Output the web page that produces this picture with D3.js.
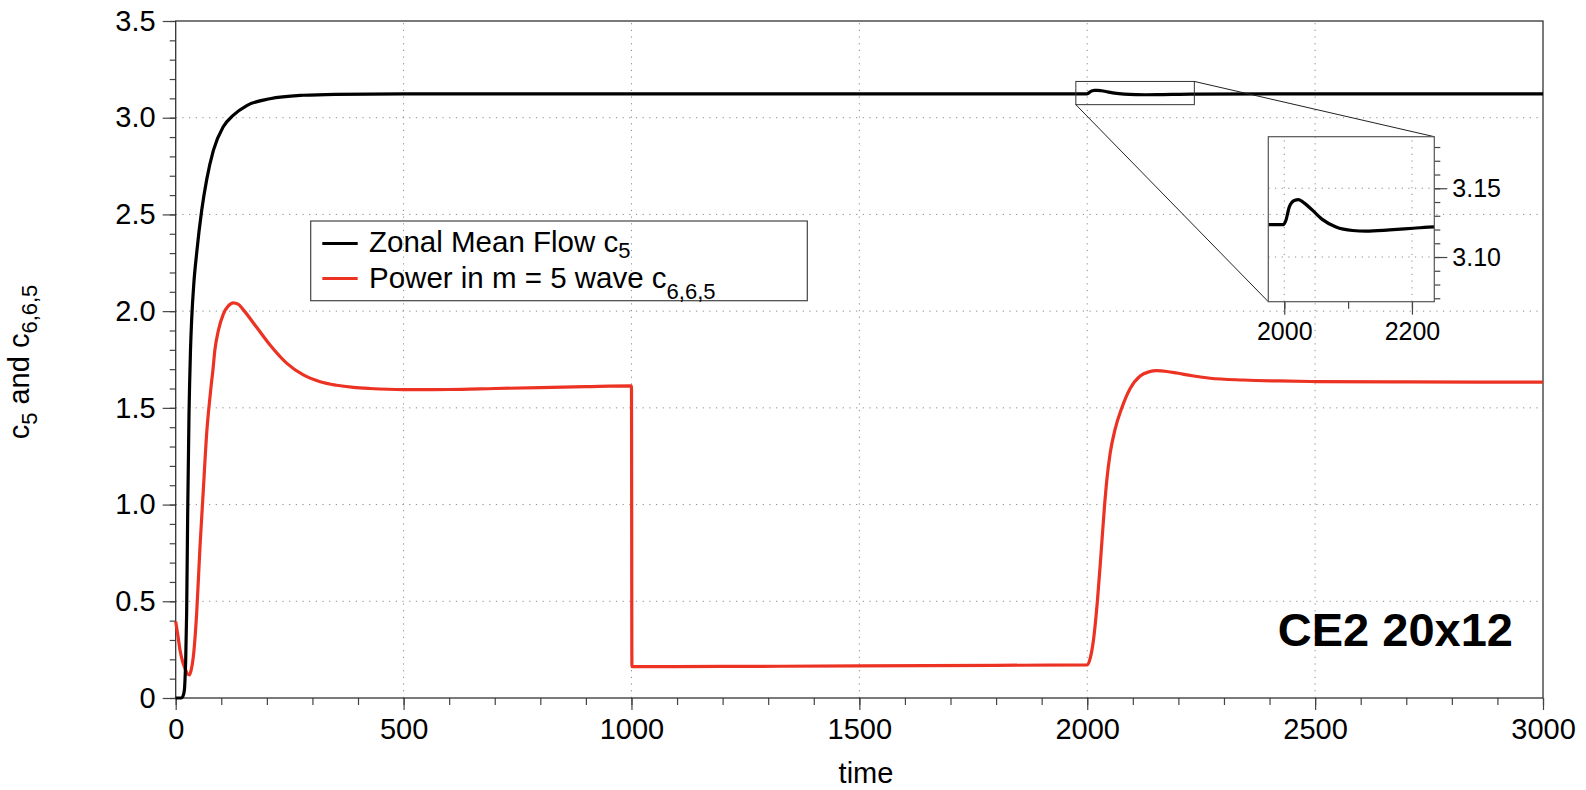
<!DOCTYPE html>
<html><head><meta charset="utf-8">
<script src="https://cdn.jsdelivr.net/npm/d3@7"></script>
<style>
body{margin:0;background:#fff}
svg{display:block}
text{font-family:"Liberation Sans",Arial,Helvetica,sans-serif;fill:#000}
</style>
</head><body>
<svg id="c" width="1586" height="790"></svg>
<script>
// ---- data ----
const blackTime  = [0, 12, 16, 19, 20.4, 22, 24, 26.3, 29.2, 30.5, 32.5, 35, 40, 46, 57, 68, 82.5, 104, 126, 156, 207, 280, 350, 500, 1000, 1500, 1999,
  2002.6, 2007.8, 2015.7, 2022.5, 2031, 2044.5, 2060, 2081, 2107, 2128, 2165, 2202, 2235, 2400, 2700, 3000];
const blackValue = [0, 0, 0.01, 0.04, 0.093, 0.2, 0.438, 0.955, 1.47, 1.62, 1.80, 1.955, 2.15, 2.30, 2.52, 2.68, 2.83, 2.952, 3.012, 3.063, 3.098, 3.116, 3.121, 3.123, 3.1236, 3.1236, 3.1236,
  3.1267, 3.1363, 3.1411, 3.1418, 3.1394, 3.1339, 3.1272, 3.1219, 3.1193, 3.1188, 3.1197, 3.1209, 3.1219, 3.1228, 3.1232, 3.1234];

const redTime  = [0, 5, 9.4, 15, 20.4, 25, 29.9, 34, 38.7, 46, 53.3, 60.6, 68, 75.3, 78, 81, 86, 93.6, 104.5, 115.5, 126, 137, 148, 178, 207, 244, 280, 317, 353, 390, 426, 500, 600, 700, 800, 900, 1000,
  1001, 1200, 1500, 1800, 2000, 2007, 2013.7, 2022.5, 2029.8, 2037.8, 2043, 2050.3, 2061.2, 2075.9, 2094.2, 2116.1, 2135, 2152.7, 2175, 2196.6, 2230, 2269.7, 2342.9, 2420, 2503.8, 2700, 3000];
const redValue = [0.395, 0.32, 0.248, 0.19, 0.153, 0.128, 0.119, 0.145, 0.214, 0.438, 0.782, 1.075, 1.369, 1.558, 1.62, 1.68, 1.80, 1.90, 1.985, 2.027, 2.043, 2.036, 2.008, 1.915, 1.825, 1.73, 1.67, 1.635, 1.617, 1.606, 1.60, 1.594, 1.595, 1.600, 1.605, 1.610, 1.614,
  0.162, 0.163, 0.166, 0.169, 0.171, 0.21, 0.300, 0.507, 0.731, 0.989, 1.127, 1.265, 1.39, 1.50, 1.60, 1.665, 1.686, 1.692, 1.688, 1.680, 1.666, 1.653, 1.644, 1.639, 1.636, 1.634, 1.633];

const xMajorTicks = [0, 500, 1000, 1500, 2000, 2500, 3000];
const xTickLabels = ["0", "500", "1000", "1500", "2000", "2500", "3000"];
const yMajorTicks = [0, 0.5, 1.0, 1.5, 2.0, 2.5, 3.0, 3.5];
const yTickLabels = ["0", "0.5", "1.0", "1.5", "2.0", "2.5", "3.0", "3.5"];

const insetTimeDomain  = [1975, 2235];
const insetValueDomain = [3.0675, 3.1875];
const insetXTicks  = [2000, 2200];
const insetXLabels = ["2000", "2200"];
const insetXMinor  = [2000, 2100, 2200];
const insetYTicks  = [3.10, 3.15];
const insetYLabels = ["3.10", "3.15"];

const xTitle = "time";
const annotation = "CE2 20x12";
const seriesColors = ["#000000", "#ec3323"];

// ---- drawing ----
const svg = d3.select("#c");
const L = 175.7, R = 1543, T = 21, B = 698;
const x = d3.scaleLinear([0, 3000], [L, R]);
const y = d3.scaleLinear([0, 3.5], [B, T]);
const FONT = '"Liberation Sans",Arial,Helvetica,sans-serif';
const gridStyle = g => g.attr("stroke", "#8a8a8a").attr("stroke-width", 1).attr("stroke-dasharray", "1.2,5.47");

// grid
const grid = svg.append("g").call(gridStyle);
grid.selectAll(".gx").data(xMajorTicks.filter(d => d > 0 && d < 3000)).join("line")
  .attr("x1", d => x(d)).attr("x2", d => x(d)).attr("y1", B).attr("y2", T);
grid.selectAll(".gy").data(yMajorTicks.filter(d => d > 0 && d < 3.5)).join("line")
  .attr("y1", d => y(d)).attr("y2", d => y(d)).attr("x1", L).attr("x2", R);

// axes
function styleAxis(g, size) {
  g.select(".domain").remove();
  g.selectAll("line").attr("stroke", "#444").attr("stroke-width", 1.2);
  g.attr("font-family", FONT).attr("font-size", size);
  g.selectAll("text").attr("fill", "#000");
}
const minorX = d3.range(0, 31).map(i => i * 100);
svg.append("g").attr("transform", `translate(0,${B})`)
  .call(d3.axisBottom(x).tickValues(minorX).tickSize(7).tickFormat(""))
  .call(g => styleAxis(g, 29));
svg.append("g").attr("transform", `translate(0,${B})`)
  .call(d3.axisBottom(x).tickValues(xMajorTicks).tickSize(12).tickPadding(8).tickFormat((d, i) => xTickLabels[i]))
  .call(g => styleAxis(g, 29));

const minorY = d3.range(0, 36).map(i => i / 10);
svg.append("g").attr("transform", `translate(${L},0)`)
  .call(d3.axisLeft(y).tickValues(minorY).tickSize(6).tickFormat(""))
  .call(g => styleAxis(g, 29));
svg.append("g").attr("transform", `translate(${L},0)`)
  .call(d3.axisLeft(y).tickValues(yMajorTicks).tickSize(13).tickPadding(7).tickFormat((d, i) => yTickLabels[i]))
  .call(g => styleAxis(g, 29));

// frame
svg.append("rect").attr("x", L).attr("y", T).attr("width", R - L).attr("height", B - T)
  .attr("fill", "none").attr("stroke", "#333").attr("stroke-width", 1.3);

// series
const blackData = d3.zip(blackTime, blackValue);
const redData = d3.zip(redTime, redValue);
const line = d3.line().x(d => x(d[0])).y(d => y(d[1])).curve(d3.curveMonotoneX);
svg.append("path").datum(redData).attr("d", line)
  .attr("fill", "none").attr("stroke", seriesColors[1]).attr("stroke-width", 3.2).attr("stroke-linejoin", "round");
svg.append("path").datum(blackData).attr("d", line)
  .attr("fill", "none").attr("stroke", seriesColors[0]).attr("stroke-width", 3.2).attr("stroke-linejoin", "round");

// ---- inset ----
const IL = 1268.3, IR = 1434.3, IT = 136.7, IB = 301.7;
const xi = d3.scaleLinear(insetTimeDomain, [IL, IR]);
const yi = d3.scaleLinear(insetValueDomain, [IB, IT]);

// zoom rectangle in main + connectors
svg.append("rect")
  .attr("x", x(insetTimeDomain[0])).attr("y", y(insetValueDomain[1]))
  .attr("width", x(insetTimeDomain[1]) - x(insetTimeDomain[0]))
  .attr("height", y(insetValueDomain[0]) - y(insetValueDomain[1]))
  .attr("fill", "none").attr("stroke", "#333").attr("stroke-width", 1);
svg.append("line")
  .attr("x1", x(insetTimeDomain[1])).attr("y1", y(insetValueDomain[1]))
  .attr("x2", xi(insetTimeDomain[1])).attr("y2", yi(insetValueDomain[1]))
  .attr("stroke", "#222").attr("stroke-width", 1);
svg.append("line")
  .attr("x1", x(insetTimeDomain[0])).attr("y1", y(insetValueDomain[0]))
  .attr("x2", xi(insetTimeDomain[0])).attr("y2", yi(insetValueDomain[0]))
  .attr("stroke", "#222").attr("stroke-width", 1);

const ig = svg.append("g").call(gridStyle);
ig.selectAll(".igx").data(insetXTicks).join("line")
  .attr("x1", d => xi(d)).attr("x2", d => xi(d)).attr("y1", IB).attr("y2", IT);
ig.selectAll(".igy").data(insetYTicks).join("line")
  .attr("y1", d => yi(d)).attr("y2", d => yi(d)).attr("x1", IL).attr("x2", IR);

svg.append("defs").append("clipPath").attr("id", "insetClip")
  .append("rect").attr("x", IL).attr("y", IT).attr("width", IR - IL).attr("height", IB - IT);
const lineIn = d3.line().x(d => xi(d[0])).y(d => yi(d[1])).curve(d3.curveMonotoneX);
svg.append("path").datum(blackData.filter(d => d[0] >= 1500 && d[0] <= 2400)).attr("d", lineIn)
  .attr("clip-path", "url(#insetClip)")
  .attr("fill", "none").attr("stroke", "#000").attr("stroke-width", 3.2);

const insetYMinor = d3.range(307, 319).map(i => i / 100);
svg.append("g").attr("transform", `translate(${IR},0)`)
  .call(d3.axisRight(yi).tickValues(insetYMinor).tickSize(6).tickFormat(""))
  .call(g => styleAxis(g, 25));
svg.append("g").attr("transform", `translate(${IR},0)`)
  .call(d3.axisRight(yi).tickValues(insetYTicks).tickSize(13).tickPadding(5).tickFormat((d, i) => insetYLabels[i]))
  .call(g => styleAxis(g, 25));
svg.append("g").attr("transform", `translate(0,${IB})`)
  .call(d3.axisBottom(xi).tickValues(insetXMinor).tickSize(7).tickFormat(""))
  .call(g => styleAxis(g, 25));
svg.append("g").attr("transform", `translate(0,${IB})`)
  .call(d3.axisBottom(xi).tickValues(insetXTicks).tickSize(13).tickPadding(8).tickFormat((d, i) => insetXLabels[i]))
  .call(g => styleAxis(g, 25));
svg.append("rect").attr("x", IL).attr("y", IT).attr("width", IR - IL).attr("height", IB - IT)
  .attr("fill", "none").attr("stroke", "#555").attr("stroke-width", 1.2);

// ---- legend ----
const leg = svg.append("g");
leg.append("rect").attr("x", 310.7).attr("y", 221).attr("width", 496.6).attr("height", 79.7)
  .attr("fill", "none").attr("stroke", "#444").attr("stroke-width", 1.2);
const legendItems = [
  {main: "Zonal Mean Flow c", sub: "5", color: seriesColors[0], ly: 243.5, ty: 251.7, dy: 6},
  {main: "Power in m = 5 wave c", sub: "6,6,5", color: seriesColors[1], ly: 278.5, ty: 288.3, dy: 11}
];
legendItems.forEach(it => {
  leg.append("line").attr("x1", 322.3).attr("x2", 357.7).attr("y1", it.ly).attr("y2", it.ly)
    .attr("stroke", it.color).attr("stroke-width", 3.2);
  const t = leg.append("text").attr("x", 369).attr("y", it.ty).attr("font-size", 29.5);
  t.append("tspan").text(it.main);
  t.append("tspan").attr("dy", it.dy).attr("font-size", 22).text(it.sub);
});

// ---- titles ----
svg.append("text").attr("x", 866).attr("y", 783).attr("text-anchor", "middle")
  .attr("font-size", 29).text(xTitle);

const yt = svg.append("text").attr("transform", "translate(29,362) rotate(-90)")
  .attr("text-anchor", "middle").attr("font-size", 29);
yt.append("tspan").text("c");
yt.append("tspan").attr("dy", 8).attr("font-size", 22).text("5");
yt.append("tspan").attr("dy", -8).text(" and c");
yt.append("tspan").attr("dy", 8).attr("font-size", 22).text("6,6,5");

svg.append("text").attr("x", 1513).attr("y", 646).attr("text-anchor", "end")
  .attr("font-size", 47).attr("font-weight", "bold").text(annotation);
</script>
</body></html>
